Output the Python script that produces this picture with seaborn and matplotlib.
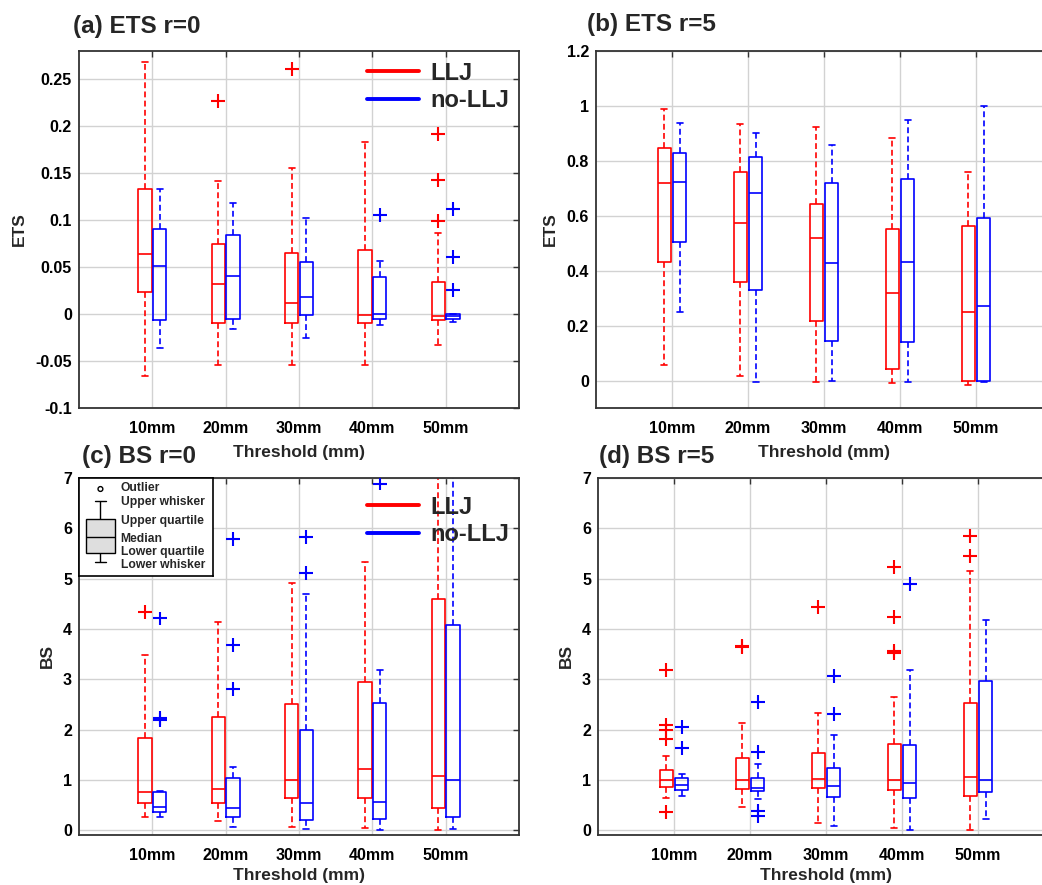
import numpy as np
import pandas as pd
import matplotlib
matplotlib.use("Agg")
import matplotlib.pyplot as plt
from matplotlib.lines import Line2D
from matplotlib.ticker import FuncFormatter
import seaborn as sns
import warnings
warnings.simplefilter(action='ignore')

thresholds = ["10mm", "20mm", "30mm", "40mm", "50mm"]
groups = ["LLJ", "no-LLJ"]
colors = {"LLJ": "#ff0000", "no-LLJ": "#0000ff"}

# box stats per threshold: lower whisker, q1, median, q3, upper whisker
ets0_llj = [[-0.066, 0.023, 0.064, 0.133, 0.268],
            [-0.054, -0.010, 0.032, 0.075, 0.142],
            [-0.054, -0.009, 0.012, 0.065, 0.155],
            [-0.054, -0.009, -0.001, 0.068, 0.183],
            [-0.033, -0.006, -0.002, 0.034, 0.086]]
ets0_nollj = [[-0.036, -0.006, 0.051, 0.091, 0.133],
              [-0.016, -0.005, 0.040, 0.084, 0.118],
              [-0.025, -0.001, 0.018, 0.055, 0.102],
              [-0.012, -0.005, 0.000, 0.039, 0.056],
              [-0.008, -0.005, -0.002, 0.000, 0.000]]
ets0_llj_out = [("20mm", 0.227), ("30mm", 0.261),
                ("50mm", 0.192), ("50mm", 0.143), ("50mm", 0.099)]
ets0_nollj_out = [("40mm", 0.105), ("50mm", 0.112), ("50mm", 0.061), ("50mm", 0.026)]

ets5_llj = [[0.055, 0.430, 0.718, 0.848, 0.987],
            [0.015, 0.358, 0.575, 0.758, 0.935],
            [-0.006, 0.218, 0.519, 0.644, 0.922],
            [-0.010, 0.041, 0.318, 0.552, 0.885],
            [-0.018, -0.001, 0.248, 0.564, 0.759]]
ets5_nollj = [[0.250, 0.505, 0.724, 0.830, 0.938],
              [-0.004, 0.330, 0.684, 0.815, 0.900],
              [0.000, 0.145, 0.429, 0.721, 0.856],
              [-0.004, 0.142, 0.433, 0.733, 0.948],
              [-0.004, 0.000, 0.273, 0.593, 0.999]]
ets5_llj_out = []
ets5_nollj_out = []

bs0_llj = [[0.26, 0.54, 0.76, 1.84, 3.48],
           [0.18, 0.55, 0.83, 2.26, 4.15],
           [0.06, 0.64, 1.00, 2.52, 4.91],
           [0.04, 0.64, 1.22, 2.95, 5.34],
           [0.00, 0.44, 1.08, 4.60, 7.60]]
bs0_nollj = [[0.27, 0.36, 0.47, 0.77, 0.78],
             [0.07, 0.27, 0.45, 1.04, 1.26],
             [0.03, 0.20, 0.54, 1.99, 4.69],
             [0.00, 0.23, 0.56, 2.53, 3.19],
             [0.03, 0.27, 1.00, 4.09, 7.60]]
bs0_llj_out = [("10mm", 4.34)]
bs0_nollj_out = [("10mm", 4.21), ("10mm", 2.23), ("10mm", 2.20),
                 ("20mm", 5.79), ("20mm", 3.69), ("20mm", 2.81),
                 ("30mm", 5.83), ("30mm", 5.11), ("40mm", 6.89)]

bs5_llj = [[0.64, 0.87, 1.00, 1.21, 1.47],
           [0.46, 0.83, 1.00, 1.43, 2.14],
           [0.15, 0.84, 1.02, 1.54, 2.34],
           [0.05, 0.80, 1.00, 1.71, 2.66],
           [0.00, 0.68, 1.07, 2.54, 5.15]]
bs5_nollj = [[0.69, 0.81, 0.90, 1.04, 1.12],
             [0.63, 0.79, 0.84, 1.04, 1.32],
             [0.08, 0.66, 0.88, 1.25, 1.90],
             [0.00, 0.64, 0.94, 1.69, 3.19],
             [0.22, 0.76, 1.00, 2.97, 4.17]]
bs5_llj_out = [("10mm", 3.19), ("10mm", 2.09), ("10mm", 1.99), ("10mm", 1.82), ("10mm", 0.36),
               ("20mm", 3.67), ("20mm", 3.64), ("30mm", 4.44),
               ("40mm", 5.23), ("40mm", 4.24), ("40mm", 3.57), ("40mm", 3.52),
               ("50mm", 5.85), ("50mm", 5.45)]
bs5_nollj_out = [("10mm", 2.05), ("10mm", 1.64),
                 ("20mm", 2.55), ("20mm", 1.56), ("20mm", 0.38), ("20mm", 0.28),
                 ("30mm", 3.07), ("30mm", 2.32), ("40mm", 4.90)]

# schematic key in panel (c), inset units
key_stats = [14, 23, 39, 57, 75]
key_outlier = [87]
key_labels = ["Outlier", "Upper whisker", "Upper quartile", "Median", "Lower quartile", "Lower whisker"]
key_label_y = [0.90, 0.755, 0.565, 0.38, 0.245, 0.115]


def box_frame(llj, nollj):
    rows = []
    for grp, stats in zip(groups, [llj, nollj]):
        for thr, five in zip(thresholds, stats):
            for v in five:
                rows.append((thr, grp, v))
    return pd.DataFrame(rows, columns=["threshold", "group", "value"])


def outlier_frame(llj_out, nollj_out):
    rows = [(t, g, v) for g, outs in zip(groups, [llj_out, nollj_out]) for t, v in outs]
    df = pd.DataFrame(rows, columns=["threshold", "group", "value"])
    pos = {t: i for i, t in enumerate(thresholds)}
    shift = {"LLJ": -0.1, "no-LLJ": 0.1}
    df["x"] = df["threshold"].map(pos) + df["group"].map(shift)
    return df


sns.set_style("whitegrid")
plt.rcParams['font.family'] = ['Liberation Sans', 'DejaVu Sans']
plt.rcParams['font.weight'] = 'bold'
plt.rcParams['axes.labelweight'] = 'bold'

fig = plt.figure(figsize=(10.42, 8.85), dpi=100)
W, H = 1042, 885
positions = {
    "a": [79 / W, 1 - 408 / H, 440 / W, 357 / H],
    "b": [596 / W, 1 - 408 / H, 456 / W, 357 / H],
    "c": [79 / W, 1 - 835 / H, 440 / W, 357 / H],
    "d": [598 / W, 1 - 835 / H, 456 / W, 357 / H],
}
panels = [
    ("a", "(a) ETS r=0", "ETS", ets0_llj, ets0_nollj, ets0_llj_out, ets0_nollj_out,
     (-0.1, 0.28), [-0.1, -0.05, 0, 0.05, 0.1, 0.15, 0.2, 0.25]),
    ("b", "(b) ETS r=5", "ETS", ets5_llj, ets5_nollj, ets5_llj_out, ets5_nollj_out,
     (-0.1, 1.2), [0, 0.2, 0.4, 0.6, 0.8, 1.0, 1.2]),
    ("c", "(c) BS r=0", "BS", bs0_llj, bs0_nollj, bs0_llj_out, bs0_nollj_out,
     (-0.09, 7), [0, 1, 2, 3, 4, 5, 6, 7]),
    ("d", "(d) BS r=5", "BS", bs5_llj, bs5_nollj, bs5_llj_out, bs5_nollj_out,
     (-0.09, 7), [0, 1, 2, 3, 4, 5, 6, 7]),
]
title_pos = {"a": (73, 26), "b": (587, 24), "c": (82, 456), "d": (599, 456)}
xlabel_pad = {"a": 7, "b": 7, "c": 4, "d": 4}

axes = {}
for key, title, ylab, llj, nollj, llj_out, nollj_out, ylim, yticks in panels:
    ax = fig.add_axes(positions[key])
    axes[key] = ax
    df = box_frame(llj, nollj)
    sns.boxplot(data=df, x="threshold", y="value", hue="group", order=thresholds,
                hue_order=groups, palette=colors, fill=False, width=0.4, gap=0.1,
                whis=(0, 100), linewidth=1.2, capwidths=0.08,
                whiskerprops={"linestyle": (0, (3.5, 2))}, legend=False, ax=ax)
    out = outlier_frame(llj_out, nollj_out)
    if len(out):
        sns.scatterplot(data=out, x="x", y="value", hue="group", palette=colors,
                        hue_order=groups, marker="+", s=100, linewidth=1.5,
                        legend=False, ax=ax, zorder=3)
    ax.set_xlim(-1, 5)
    ax.set_ylim(*ylim)
    ax.set_xticks(range(len(thresholds)))
    ax.set_xticklabels(thresholds)
    ax.set_yticks(yticks)
    ax.yaxis.set_major_formatter(FuncFormatter(lambda v, p: f"{round(v, 3) + 0.0:g}"))
    ax.grid(True, color="#d2d2d2", linewidth=1)
    ax.set_axisbelow(True)
    for s in ax.spines.values():
        s.set_color("#333333")
        s.set_linewidth(1.3)
    ax.tick_params(direction="in", length=4, width=1, top=True, right=True,
                   colors="#333333", labelcolor="black", labelsize=11.5)
    ax.tick_params(axis="x", pad=9)
    ax.tick_params(axis="y", pad=5)
    ax.set_xlabel("Threshold (mm)", fontsize=12.5, labelpad=xlabel_pad[key])
    ax.set_ylabel(ylab, fontsize=12.5, labelpad=6)
    tx, ty = title_pos[key]
    fig.text(tx / W, 1 - ty / H, title, fontsize=17.5, fontweight="bold",
             ha="left", va="center")

handles = [Line2D([], [], color=colors[g], lw=2.8) for g in groups]
for key, anchor in [("a", (1.01, 1.01)), ("c", (1.01, 0.99))]:
    axes[key].legend(handles, groups, loc="upper right", bbox_to_anchor=anchor,
                     frameon=False, prop={"size": 17, "weight": "bold"},
                     handlelength=2.2, handletextpad=0.5, labelspacing=0.2,
                     borderaxespad=0.2)

# box-plot key in panel (c)
kax = fig.add_axes([79 / W, 1 - 576 / H, 134 / W, 98 / H])
kax.set_facecolor("white")
sns.boxplot(y=key_stats, ax=kax, whis=(0, 100), width=0.22, color="#dedede",
            linecolor="black", linewidth=1, capwidths=0.08, saturation=1)
sns.scatterplot(x=[0] * len(key_outlier), y=key_outlier, marker="o", s=12,
                facecolor="none", edgecolor="black", linewidth=1, ax=kax)
kax.set_xlim(-0.16, 0.84)
kax.set_ylim(0, 98)
kax.set_xticks([])
kax.set_yticks([])
kax.set_xlabel("")
kax.set_ylabel("")
kax.grid(False)
for s in kax.spines.values():
    s.set_color("black")
    s.set_linewidth(1.2)
for lab, y in zip(key_labels, key_label_y):
    kax.text(0.31, y, lab, transform=kax.transAxes, fontsize=8.7,
             fontweight="bold", ha="left", va="center")

fig.savefig("out.png", dpi=100)
